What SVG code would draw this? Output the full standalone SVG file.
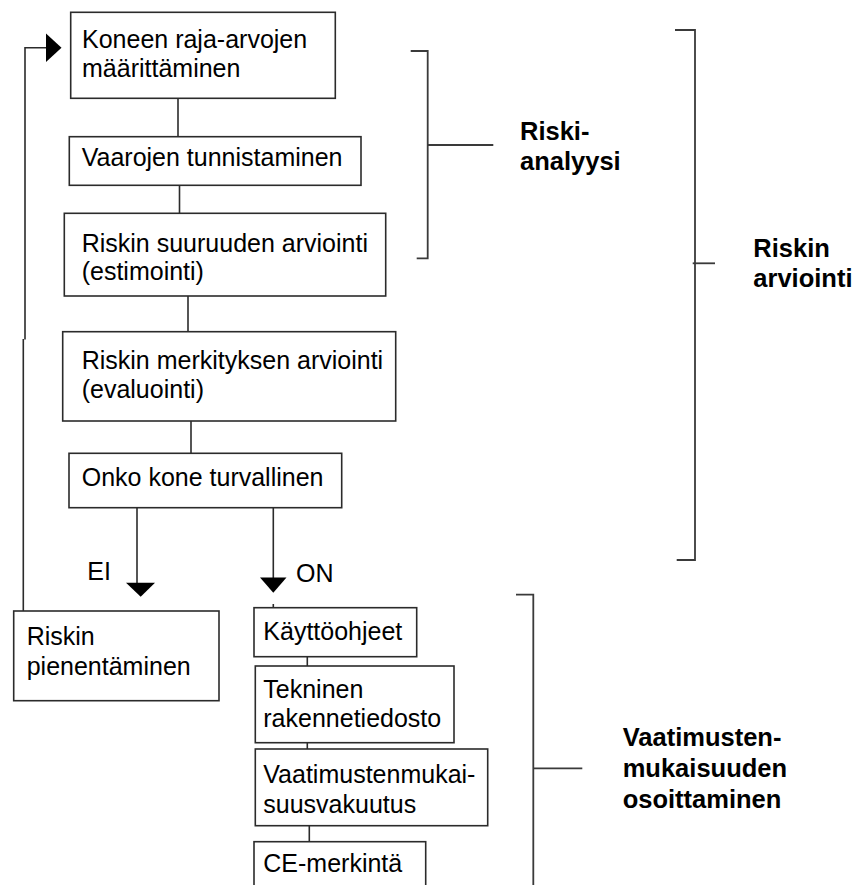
<svg xmlns="http://www.w3.org/2000/svg" width="854" height="885" viewBox="0 0 854 885">
<defs>
<style>
.box{fill:#fff;stroke:#2b2b2b;stroke-width:1.6}
.ln{fill:none;stroke:#2b2b2b;stroke-width:1.6}
.br{fill:none;stroke:#3a3a3a;stroke-width:1.8}
.t{font-family:"Liberation Sans",Arial,sans-serif;font-size:25px;fill:#000}
.b{font-family:"Liberation Sans",Arial,sans-serif;font-size:25.5px;font-weight:bold;fill:#000}
.ah{fill:#000}
</style>
</defs>
<rect width="854" height="885" fill="#fff"/>
<g id="connectors">
<line class="ln" x1="178" y1="98" x2="178" y2="137"/>
<line class="ln" x1="179.5" y1="185" x2="179.5" y2="213"/>
<line class="ln" x1="188" y1="296" x2="188" y2="332"/>
<line class="ln" x1="191" y1="421" x2="191" y2="453"/>
<line class="ln" x1="137" y1="508" x2="137" y2="584"/>
<polygon class="ah" points="126,582.7 155,582.7 140.7,596.7"/>
<line class="ln" x1="273.3" y1="508" x2="273.3" y2="579"/>
<polygon class="ah" points="260,577.5 286.5,577.5 273.3,592.7"/>
<line class="ln" x1="273.3" y1="604" x2="273.3" y2="608"/>
<polyline class="ln" points="23.3,611 23.3,339"/>
<polyline class="ln" points="25,339.5 25,47.7 47,47.7"/>
<polygon class="ah" points="46,33.5 61.5,47.7 46,62"/>
<line class="ln" x1="307.3" y1="656.7" x2="307.3" y2="666"/>
<line class="ln" x1="307.3" y1="742.7" x2="307.3" y2="749"/>
<line class="ln" x1="309.3" y1="825.7" x2="309.3" y2="841.7"/>
</g>
<g id="n1"><rect class="box" x="70.7" y="12.3" width="264.6" height="86"/>
<text class="t" x="82" y="48">Koneen raja-arvojen</text><text class="t" x="82" y="77">määrittäminen</text></g>
<g id="n2"><rect class="box" x="69.3" y="136.7" width="291.7" height="48.6"/>
<text class="t" x="81.7" y="165.7">Vaarojen tunnistaminen</text></g>
<g id="n3"><rect class="box" x="64.3" y="213.3" width="321.4" height="82.7"/>
<text class="t" x="81.7" y="251.7">Riskin suuruuden arviointi</text><text class="t" x="81.7" y="279.5">(estimointi)</text></g>
<g id="n4"><rect class="box" x="62.7" y="331.7" width="333" height="89.3"/>
<text class="t" x="81.7" y="369.3">Riskin merkityksen arviointi</text><text class="t" x="81.7" y="398.3">(evaluointi)</text></g>
<g id="n5"><rect class="box" x="69" y="453.3" width="272.7" height="54.4"/>
<text class="t" x="81.7" y="486">Onko kone turvallinen</text></g>
<g id="lblEI"><text class="t" x="87.3" y="580">EI</text></g>
<g id="lblON"><text class="t" x="296" y="581.7">ON</text></g>
<g id="n6"><rect class="box" x="13.7" y="611" width="205.3" height="89.7"/>
<text class="t" x="26.7" y="645">Riskin</text><text class="t" x="26.7" y="675">pienentäminen</text></g>
<g id="n7"><rect class="box" x="254" y="607.7" width="162.7" height="49"/>
<text class="t" x="263.3" y="640">Käyttöohjeet</text></g>
<g id="n8"><rect class="box" x="255.3" y="666" width="198.7" height="76.7"/>
<text class="t" x="263.3" y="698.3">Tekninen</text><text class="t" x="263.3" y="726.7">rakennetiedosto</text></g>
<g id="n9"><rect class="box" x="255.3" y="749" width="232.4" height="76.7"/>
<text class="t" x="263.3" y="783.3">Vaatimustenmukai-</text><text class="t" x="263.3" y="813.3">suusvakuutus</text></g>
<g id="n10"><rect class="box" x="254" y="841.7" width="171.7" height="60"/>
<text class="t" x="263.3" y="871.7">CE-merkintä</text></g>
<g id="bracket1"><polyline class="br" points="410.7,51 427.7,51 427.7,258.3 416.7,258.3"/>
<line class="br" x1="427.7" y1="145" x2="493.3" y2="145"/>
<text class="b" x="520" y="140">Riski-</text><text class="b" x="520" y="170">analyysi</text></g>
<g id="bracket2"><polyline class="br" points="675,30 695,30 695,560 676.7,560"/>
<line class="br" x1="692.7" y1="263.3" x2="715" y2="263.3"/>
<text class="b" x="753.3" y="256.7">Riskin</text><text class="b" x="753.3" y="286.7">arviointi</text></g>
<g id="bracket3"><polyline class="br" points="516,594.7 533.3,594.7 533.3,890"/>
<line class="br" x1="533.3" y1="768.3" x2="582.3" y2="768.3"/>
<text class="b" x="622.7" y="745.7">Vaatimusten-</text><text class="b" x="622.7" y="776.7">mukaisuuden</text><text class="b" x="622.7" y="807.7">osoittaminen</text></g>
</svg>
